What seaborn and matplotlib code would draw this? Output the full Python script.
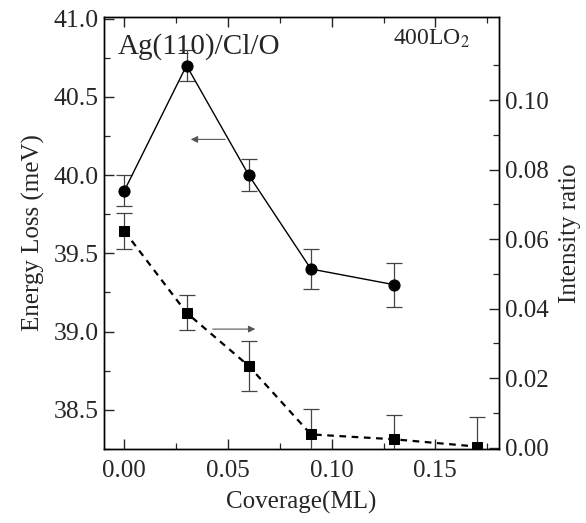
import numpy as np
import pandas as pd
import matplotlib
matplotlib.use("Agg")
import matplotlib.pyplot as plt
import seaborn as sns

# Data
cov_energy = [0.00, 0.03, 0.06, 0.09, 0.13]
energy_loss = [39.90, 40.70, 40.00, 39.40, 39.30]
energy_err = [0.10, 0.10, 0.10, 0.13, 0.14]

cov_ratio = [0.00, 0.03, 0.06, 0.09, 0.13, 0.17]
intensity_ratio = [0.0623, 0.0388, 0.0235, 0.0038, 0.0024, 0.0003]
ratio_err = [0.0052, 0.0050, 0.0072, 0.0072, 0.0070, 0.0086]

x_ticks = [0.00, 0.05, 0.10, 0.15]
left_ticks = [38.5, 39.0, 39.5, 40.0, 40.5, 41.0]
right_ticks = [0.00, 0.02, 0.04, 0.06, 0.08, 0.10]

sns.set_style("ticks")
plt.rcParams['font.family'] = ['Liberation Serif', 'DejaVu Serif']
plt.rcParams['mathtext.fontset'] = 'stix'

fig = plt.figure(figsize=(5.86, 5.23), dpi=100)
ax = fig.add_axes([104/586, 1-449/523, (499-104)/586, (449-17)/523])
ax2 = ax.twinx()

df1 = pd.DataFrame({"cov": cov_energy, "E": energy_loss})
df2 = pd.DataFrame({"cov": cov_ratio, "R": intensity_ratio})

ax.errorbar(cov_energy, energy_loss, yerr=energy_err, fmt='none',
            ecolor='#444444', elinewidth=0.9, capsize=6, capthick=0.9, zorder=2)
sns.lineplot(data=df1, x="cov", y="E", ax=ax, color='black', lw=1.0,
             marker='o', markersize=8, markeredgecolor='black', zorder=3)

ax2.errorbar(cov_ratio, intensity_ratio, yerr=ratio_err, fmt='none',
             ecolor='#444444', elinewidth=0.9, capsize=6, capthick=0.9, zorder=2)
sns.lineplot(data=df2, x="cov", y="R", ax=ax2, color='black', lw=1.6,
             linestyle=(0, (3, 2.5)), marker='s', markersize=7,
             markeredgecolor='black', zorder=3)

ax.set_xlim(-0.0098, 0.1807)
ax.set_ylim(38.27, 41.01)
ax2.set_ylim(-0.0004, 0.1239)

ax.set_xticks(x_ticks)
ax.set_xticklabels([f"{v:.2f}" for v in x_ticks])
ax.set_xticks(np.arange(0.025, 0.18, 0.05), minor=True)
ax.set_yticks(left_ticks)
ax.set_yticklabels([f"{v:.1f}" for v in left_ticks])
ax.set_yticks(np.arange(38.25, 41.01, 0.25), minor=True)
ax2.set_yticks(right_ticks)
ax2.set_yticklabels([f"{v:.2f}" for v in right_ticks])
ax2.set_yticks(np.arange(0.01, 0.121, 0.02), minor=True)

ax.tick_params(axis='x', which='both', direction='in', top=True, labelsize=18, pad=8)
ax.tick_params(axis='y', which='both', direction='in', right=False, labelsize=18.5, pad=4)
ax.tick_params(which='major', length=7, width=1.0)
ax.tick_params(which='minor', length=4, width=0.9)
ax2.tick_params(axis='y', which='both', direction='in', labelsize=18, pad=4)
ax2.tick_params(which='major', length=7, width=1.0)
ax2.tick_params(which='minor', length=4, width=0.9)

for a in (ax, ax2):
    for s in a.spines.values():
        s.set_visible(True)
        s.set_linewidth(1.0)
        s.set_color('black')

ax.set_xlabel("Coverage(ML)", fontsize=18, labelpad=6)
ax.set_ylabel("Energy Loss (meV)", fontsize=18, labelpad=6)
ax2.set_ylabel("Intensity ratio", fontsize=18, labelpad=8)

ax.text(0.035, 0.932, "Ag(110)/Cl/O", transform=ax.transAxes, fontsize=21,
        ha='left', va='center')
ax.text(0.927, 0.95, r"400LO$_2$", transform=ax.transAxes, fontsize=17,
        ha='right', va='center')

ax.annotate("", xy=(0.0307, 40.228), xytext=(0.050, 40.228),
            arrowprops=dict(arrowstyle='-|>', color='#555555', lw=0.8,
                            mutation_scale=10))
ax2.annotate("", xy=(0.0645, 0.0341), xytext=(0.0413, 0.0341),
             arrowprops=dict(arrowstyle='-|>', color='#555555', lw=0.8,
                             mutation_scale=10))

fig.savefig("out.png", dpi=100)
